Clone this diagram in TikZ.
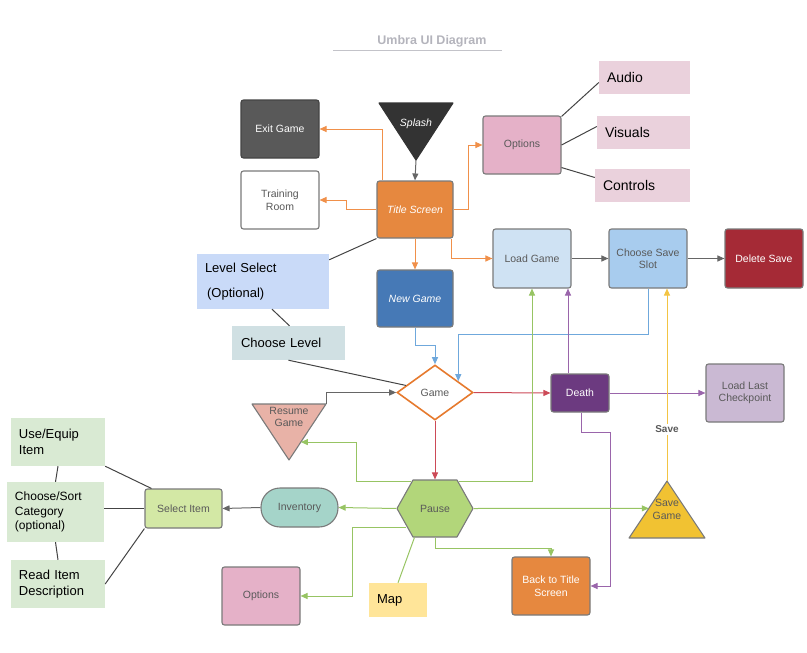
\documentclass[tikz,border=0pt]{standalone}
\usepackage{fontspec}
\setmainfont{Liberation Sans}
\usetikzlibrary{shapes.geometric,arrows.meta,calc}

\definecolor{boxline}{HTML}{7A7A7A}
\definecolor{textgray}{HTML}{595959}
\definecolor{titlegray}{HTML}{B4B4BC}
\definecolor{linegray}{HTML}{666666}
\definecolor{darkline}{HTML}{444444}
\definecolor{orangeline}{HTML}{F0904A}
\definecolor{redline}{HTML}{CC4A57}
\definecolor{purpleline}{HTML}{9A65AB}
\definecolor{blueline}{HTML}{6FA8DC}
\definecolor{greenline}{HTML}{97C463}
\definecolor{yellowline}{HTML}{F3C443}
\definecolor{splashfill}{HTML}{333333}
\definecolor{exitfill}{HTML}{595959}
\definecolor{titlefill}{HTML}{E6883F}
\definecolor{pinkfill}{HTML}{E5B1C8}
\definecolor{optnote}{HTML}{EAD1DC}
\definecolor{loadfill}{HTML}{CFE2F3}
\definecolor{slotfill}{HTML}{A8CCEE}
\definecolor{deletefill}{HTML}{A52A36}
\definecolor{newfill}{HTML}{4679B6}
\definecolor{levelfill}{HTML}{C9DAF8}
\definecolor{chooselvfill}{HTML}{D0E0E3}
\definecolor{gameline}{HTML}{E67A2E}
\definecolor{resumefill}{HTML}{E8B2A7}
\definecolor{deathfill}{HTML}{6C3A80}
\definecolor{lastfill}{HTML}{CAB9D3}
\definecolor{pausefill}{HTML}{B2D67A}
\definecolor{invfill}{HTML}{A5D4C9}
\definecolor{selfill}{HTML}{D3E8A5}
\definecolor{itemnote}{HTML}{D9EAD3}
\definecolor{mapfill}{HTML}{FFE599}
\definecolor{savefill}{HTML}{F1C232}

\begin{document}
\begin{tikzpicture}[x=1pt,y=-1pt,>={Triangle[length=7pt,width=6pt]},
    box/.style={draw=boxline,line width=1.1pt,rounded corners=2.5pt,minimum width=78,minimum height=58,
        align=center,text=textgray,font=\fontsize{10.5}{12.5}\selectfont},
    note/.style={align=left,inner xsep=8,inner ysep=0,text=black,font=\fontsize{13}{15.5}\selectfont},
    flow/.style={line width=1pt}]
    \useasboundingbox (0,0) rectangle (807,653);

    % title
    \node[font=\bfseries\fontsize{12.5}{15}\selectfont,text=titlegray] (title) at (432,41) {Umbra UI Diagram};
    \draw[titlegray!80,line width=1pt] (333,50) -- (502,50);

    % triangles and hexagon
    \draw[splashfill,line width=1.1pt,fill=splashfill,line join=round] (379,103) -- (453,103) -- (416,160) -- cycle;
    \coordinate (splash tip) at (416,160);
    \draw[boxline,line width=1.1pt,fill=resumefill,line join=round] (252,404) -- (326,404) -- (289,460) -- cycle;
    \coordinate (resume ne) at (326,404);
    \coordinate (resume tip) at (289,460);
    \draw[boxline,line width=1.1pt,fill=savefill,line join=round] (629,538) -- (705,538) -- (667,481) -- cycle;
    \coordinate (save tip) at (667,481);
    \coordinate (save sw) at (629,538);
    \draw[boxline,line width=1.1pt,fill=pausefill,line join=round]
        (397,508.5) -- (413,480) -- (457,480) -- (473,508.5) -- (457,537) -- (413,537) -- cycle;

    \begin{scope}[every node/.style={box}]
        \node[draw=none,text=white,font=\itshape\fontsize{10.5}{12.5}\selectfont,minimum width=40,minimum height=20] (splash) at (416,124) {Splash};
        \node[fill=exitfill,draw=darkline,text=white] (exit) at (280,129) {Exit Game};
        \node[fill=white] (training) at (280,200) {Training\\Room};
        \node[fill=titlefill,text=white,font=\itshape\fontsize{10.5}{12.5}\selectfont,minimum width=76,minimum height=57] (tscreen) at (415,209.5) {Title Screen};
        \node[fill=pinkfill] (opts) at (522,145) {Options};
        \node[fill=loadfill,minimum height=59] (loadgame) at (532,258.5) {Load Game};
        \node[fill=slotfill,minimum height=59] (slot) at (648,258.5) {Choose Save\\Slot};
        \node[fill=deletefill,text=white,minimum height=59] (delete) at (764,258.5) {Delete Save};
        \node[fill=newfill,text=white,font=\itshape\fontsize{10.5}{12.5}\selectfont,minimum width=76,minimum height=57] (newgame) at (415,298.5) {New Game};
        \node[draw=none,minimum width=30,minimum height=20] (resume) at (289,417) {Resume\\Game};
        \node[fill=deathfill,text=white,minimum width=58,minimum height=38] (death) at (580,393) {Death};
        \node[fill=lastfill] (lastcp) at (745,393) {Load Last\\Checkpoint};
        \node[draw=none,minimum width=76,minimum height=57] (pause) at (435,508.5) {Pause};
        \node[fill=invfill,minimum width=77,minimum height=39,rounded corners=19pt] (inventory) at (299.5,507.5) {Inventory};
        \node[fill=selfill,minimum width=77,minimum height=39] (select) at (183.5,508.5) {Select Item};
        \node[fill=pinkfill] (optsb) at (261,596) {Options};
        \node[fill=titlefill,text=white] (backtitle) at (551,586) {Back to Title\\Screen};
        \node[draw=none,minimum width=37,minimum height=20] (savegame) at (667,509.5) {Save\\Game};
    \end{scope}
    \node[diamond,draw=gameline,line width=1.6pt,fill=white,aspect=1.38,minimum width=76,minimum height=55,
        inner sep=0,text=textgray,font=\fontsize{10.5}{12.5}\selectfont] (game) at (435,392.5) {Game};

    % notes
    \begin{scope}[every node/.style={note}]
        \node[fill=optnote,text width=75,minimum height=33,font=\fontsize{14}{16}\selectfont] (audio) at (644.5,77.5) {Audio};
        \node[fill=optnote,text width=77,minimum height=33,font=\fontsize{14}{16}\selectfont] (visuals) at (643.5,132.5) {Visuals};
        \node[fill=optnote,text width=79,minimum height=33,font=\fontsize{14}{16}\selectfont] (controls) at (642.5,185.5) {Controls};
        \node[fill=levelfill,text width=116,minimum height=55] (levelsel) at (263,281.5) {Level Select\\[9pt]\,(Optional)};
        \node[fill=chooselvfill,text width=95,minimum height=34,inner xsep=9] (chooselevel) at (288.5,343) {Choose Level};
        \node[fill=itemnote,text width=78,minimum height=48] (useequip) at (58,442) {Use/Equip\\Item};
        \node[fill=itemnote,text width=81,minimum height=60,font=\fontsize{12}{14.5}\selectfont] (choosesort) at (55.5,512) {Choose/Sort\\Category\\(optional)};
        \node[fill=itemnote,text width=78,minimum height=48] (readitem) at (58,584) {Read Item\\Description};
        \node[fill=mapfill,text width=42,minimum height=34] (map) at (398,600) {Map};
    \end{scope}

    % connectors
    \begin{scope}[flow]
        \draw[->,linegray] (splash tip) -- (tscreen.north);
        \draw[->,orangeline] ($(tscreen.north west)+(6,0)$) |- (exit.east);
        \draw[->,orangeline] (tscreen.west) -- ++(-30,0) |- (training.east);
        \draw[->,orangeline] (tscreen.east) -- ++(15,0) |- (opts.west);
        \draw[->,orangeline] (tscreen.south) -- (newgame.north);
        \draw[->,orangeline] ($(tscreen.south east)+(-2,0)$) |- (loadgame.west);
        \draw[->,linegray] (loadgame.east) -- (slot.west);
        \draw[->,linegray] (slot.east) -- (delete.west);
        \draw[->,blueline] (newgame.south) -- ++(0,18) -| (game.north);
        \draw[->,blueline] (slot.south) -- ++(0,46) -| ($(game.north)!0.6!(game.east)$);
        \draw[->,linegray] (resume ne) |- (game.west);
        \draw[->,redline] (game.east) -- (death.west);
        \draw[->,redline] (game.south) -- (pause.north);
        \draw[->,purpleline] (death.east) -- (lastcp.west);
        \draw[->,purpleline] ($(death.north)+(-12,0)$) -- ($(loadgame.south)+(36,0)$);
        \draw[->,purpleline] ($(death.south)+(1,0)$) -- ++(0,20) -- ++(29,0) |- (backtitle.east);
        \draw[->,greenline] ($(pause.north west)+(15,2)$) -- ++(-55,0) |- ($(resume ne)!0.68!(resume tip)$);
        \draw[->,greenline] ($(pause.north east)+(-15,2)$) -| (loadgame.south);
        \draw[->,greenline] (pause.west) -- (inventory.east);
        \draw[->,greenline] ($(pause.south west)+(10,-10)$) -- ++(-54,0) |- (optsb.east);
        \draw[greenline] ($(pause.south west)+(18,0)$) -- (map.north);
        \draw[->,greenline] (pause.south) -- ++(0,11) -| (backtitle.north);
        \draw[->,greenline] (pause.east) -- ($(save tip)!0.48!(save sw)$);
        \draw[->,yellowline] (save tip) -- node[pos=0.27,fill=white,text=textgray,font=\bfseries\fontsize{10}{12}\selectfont,inner sep=2pt] {Save} ($(slot.south)+(19,0)$);
        \draw[->,linegray] (inventory.west) -- (select.east);
    \end{scope}
    \begin{scope}[flow,darkline]
        \draw ($(levelsel.north east)+(0,6)$) -- (tscreen.south west);
        \draw ($(levelsel.south)+(9,0)$) -- ($(chooselevel.north)+(1,0)$);
        \draw (chooselevel.south) -- ($(game.west)!0.25!(game.north)$);
        \draw ($(opts.north east)+(0,1)$) -- ($(audio.west)+(0,5)$);
        \draw (opts.east) -- ($(visuals.west)+(0,-6)$);
        \draw ($(opts.south east)+(0,-7)$) -- ($(controls.west)+(0,-8)$);
        \draw ($(select.north west)+(7,0)$) -- (useequip.south east);
        \draw (select.west) -- (select.west -| choosesort.east);
        \draw (select.south west) -- (readitem.east);
        \draw (useequip.south) -- (choosesort.north);
        \draw (choosesort.south) -- (readitem.north);
    \end{scope}
\end{tikzpicture}
\end{document}
